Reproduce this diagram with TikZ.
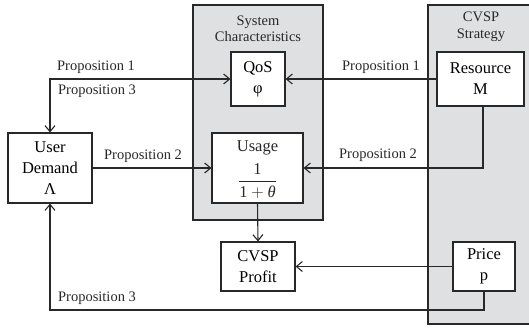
\documentclass[tikz,border=0pt]{standalone}
\usepackage{amsmath}
\usepackage{fontspec}
\setmainfont{Liberation Serif}
\usetikzlibrary{arrows.meta}
\definecolor{panel}{RGB}{223,224,226}
\definecolor{ink}{RGB}{40,40,40}
\tikzset{
  box/.style={draw=ink, line width=1.1pt, fill=white, align=center, inner sep=0pt,
     font=\fontsize{16.5}{21}\selectfont},
  lbl/.style={font=\fontsize{14.5}{17}\selectfont, inner sep=0pt, text=ink},
  hdr/.style={font=\fontsize{14.5}{16.5}\selectfont, align=center, inner sep=0pt, text=ink},
  conn/.style={draw=ink, line width=1.1pt, -{Straight Barb[length=6pt,width=10pt,line width=1.1pt]}},
  conn2/.style={draw=ink, line width=1.1pt, {Straight Barb[length=6pt,width=10pt,line width=1.1pt]}-{Straight Barb[length=6pt,width=10pt,line width=1.1pt]}},
  plain/.style={draw=ink, line width=1.1pt},
}
\begin{document}
\begin{tikzpicture}[x=1pt,y=-1pt]
\useasboundingbox (0,0) rectangle (529,329);
% panels
\fill[panel] (193,5) rectangle (323,220);
\draw[plain] (193,5) rectangle (323,220);
\fill[panel] (428,5) rectangle (529,324);
\draw[plain] (529,5) -- (428,5) -- (428,324) -- (529,324);
\node[hdr] (sys) at (258,29) {System\\Characteristics};
\node[hdr] (strat) at (481,27) {CVSP\\Strategy};
% boxes
\node[box, minimum width=84pt, minimum height=70pt] (ud) at (50,168) {User\\Demand\\Λ};
\node[box, minimum width=54pt, minimum height=54pt] (qos) at (258,79) {QoS\\φ};
\node[box, minimum width=91pt, minimum height=70pt] (usage) at (257.5,168) {};
\node[font=\fontsize{16.5}{21}\selectfont, inner sep=0pt, text=ink] (usaget) at (257.5,148) {Usage};
\node[font=\fontsize{16.5}{21}\selectfont, inner sep=0pt, text=ink] (usagef) at (257.5,181) {$\dfrac{\text{1}}{\text{1}+\text{\itshape θ}}$};
\node[box, minimum width=74pt, minimum height=49pt] (profit) at (258,266.5) {CVSP\\Profit};
\node[box, minimum width=87pt, minimum height=54pt] (res) at (480.5,79) {Resource\\M};
\node[box, minimum width=62pt, minimum height=49pt] (price) at (484,266.5) {Price\\p};
% connectors
\draw[conn2] (ud.north) |- (qos.west);
\draw[conn] (res.west) -- (qos.east);
\draw[conn] (ud.east) -- (usage.west);
\draw[conn] ([xshift=2.5pt]res.south) |- (usage.east);
\draw[conn] (usage.south) -- (profit.north);
\draw[conn] (price.west) -- (profit.east);
\coordinate (low) at (0,310);
\draw[conn] (price.south) -- (price.south |- low) -| (ud.south);
% labels
\node[lbl] (l1a) at (96,67) {Proposition 1};
\node[lbl] (l3a) at (97,91) {Proposition 3};
\node[lbl] (l1b) at (381,67) {Proposition 1};
\node[lbl] (l2a) at (143,156) {Proposition 2};
\node[lbl] (l2b) at (378,155) {Proposition 2};
\node[lbl] (l3b) at (97,298) {Proposition 3};
\end{tikzpicture}
\end{document}
